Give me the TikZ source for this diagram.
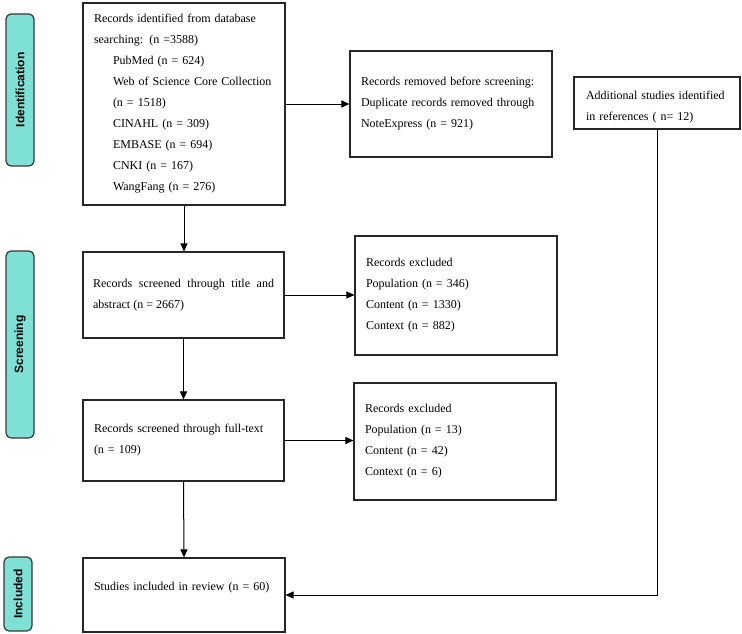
\documentclass[tikz,border=0pt]{standalone}
\usepackage{fontspec}
\setmainfont{Liberation Serif}
\newfontfamily\stagefont{Liberation Sans}
\usetikzlibrary{arrows.meta}
\definecolor{stagefill}{RGB}{127,224,214}
\definecolor{stagedraw}{RGB}{55,55,55}
\newcommand{\ind}{\hspace*{19pt}}

\begin{document}
\begin{tikzpicture}[
    x=1pt, y=-1pt,
    box/.style={draw=black!85, line width=1.1pt, align=left, inner xsep=11pt,
      font=\fontsize{12}{21}\selectfont},
    stage/.style={draw=stagedraw, fill=stagefill, line width=1.2pt, rounded corners=5pt,
      rotate=90, minimum height=28pt, inner sep=0pt, font=\stagefont\bfseries\fontsize{12}{14}\selectfont},
    flow/.style={-{Triangle[length=8pt,width=7pt]}, line width=1pt},
  ]
    \useasboundingbox (0,0) rectangle (742,634);

    \node[stage, minimum width=152pt] (identification) at (20,90) {Identification};
    \node[stage, minimum width=187pt] (screening) at (20,344.5) {Screening};
    \node[stage, minimum width=74pt] (included) at (18,594) {Included};

    \node[box, text width=180pt, minimum height=202pt] (identified) at (184,104) {
      Records identified from database\\
      searching: (n =3588)\\
      \ind PubMed (n = 624)\\
      \ind Web of Science Core Collection\\
      \ind (n = 1518)\\
      \ind CINAHL (n = 309)\\
      \ind EMBASE (n = 694)\\
      \ind CNKI (n = 167)\\
      \ind WangFang (n = 276)};
    \node[box, text width=180pt, minimum height=106pt] (removed) at (451,104) {
      Records removed before screening:\\
      Duplicate records removed through\\
      NoteExpress (n = 921)};
    \node[box, text width=142pt, minimum height=52pt, inner xsep=12pt, text height=17pt] (additional) at (657,103) {
      Additional studies identified\\
      in references ( n= 12)};
    \node[box, text width=181pt, minimum height=86pt, inner xsep=10pt, align=justify] (screened) at (183.5,295) {
      Records screened through title and\linebreak abstract (n = 2667)};
    \node[box, text width=180pt, minimum height=119pt] (excluded1) at (456,295.5) {
      Records excluded\\
      Population (n = 346)\\
      Content (n = 1330)\\
      Context (n = 882)};
    \node[box, text width=179pt, minimum height=81pt] (fulltext) at (183.5,440.5) {
      Records screened through full-text\\
      (n = 109)};
    \node[box, text width=180pt, minimum height=117pt] (excluded2) at (455,441.5) {
      Records excluded\\
      Population (n = 13)\\
      Content (n = 42)\\
      Context (n = 6)};
    \node[box, text width=180pt, minimum height=74pt, text depth=18pt] (studies) at (184,595) {
      Studies included in review (n = 60)};

    \draw[flow] (identified.east) -- (removed.west);
    \draw[flow] (identified.south) -- (identified.south |- screened.north);
    \draw[flow] (screened.east) -- (screened.east -| excluded1.west);
    \draw[flow] (screened.south) -- (fulltext.north);
    \draw[flow] (fulltext.east) -- (fulltext.east -| excluded2.west);
    \draw[flow] (fulltext.south) -- (studies.north);
    \draw[flow] (additional.south) |- (studies.east);
\end{tikzpicture}
\end{document}
